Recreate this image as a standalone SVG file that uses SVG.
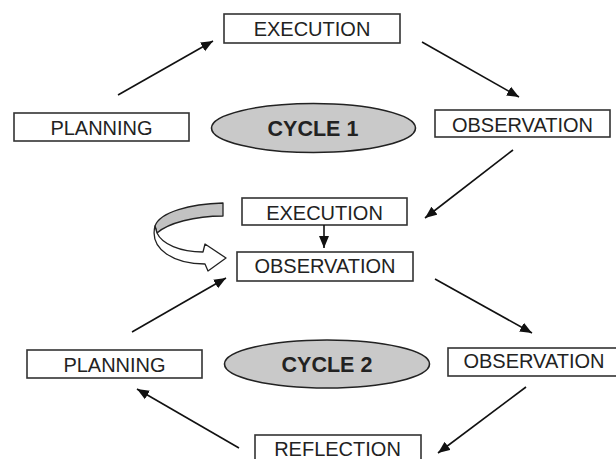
<svg xmlns="http://www.w3.org/2000/svg" width="616" height="459" viewBox="0 0 616 459">
<defs>
<marker id="ah" markerUnits="userSpaceOnUse" markerWidth="13" markerHeight="11" refX="12" refY="5" orient="auto" viewBox="0 0 13 10">
<path d="M0,0 L12,5 L0,10 z" fill="#111"/>
</marker>
<style>
.box{fill:#fff;stroke:#333;stroke-width:1.6}
.ell{fill:#c9c9c9;stroke:#222;stroke-width:1.6}
.t{font-family:"Liberation Sans",Arial,sans-serif;font-size:20px;fill:#222;text-anchor:middle}
.c{font-family:"Liberation Sans",Arial,sans-serif;font-size:21.5px;font-weight:bold;fill:#222;text-anchor:middle}
.ar{stroke:#111;stroke-width:1.6;fill:none;marker-end:url(#ah)}
</style>
</defs>
<rect width="616" height="459" fill="#fff"/>
<g id="exec1"><rect class="box" x="224" y="14" width="176" height="29"/><text class="t" x="312" y="36">EXECUTION</text></g>
<g id="plan1"><rect class="box" x="14" y="113" width="175" height="28"/><text class="t" x="101.5" y="134.5">PLANNING</text></g>
<g id="cycle1"><ellipse class="ell" cx="313.5" cy="128" rx="102" ry="24.5"/><text class="c" x="313" y="136">CYCLE 1</text></g>
<g id="obs1"><rect class="box" x="435" y="110" width="175" height="27"/><text class="t" x="522.5" y="132">OBSERVATION</text></g>
<g id="exec2"><rect class="box" x="242" y="198" width="165" height="27"/><text class="t" x="324.5" y="220">EXECUTION</text></g>
<g id="obs2"><rect class="box" x="237" y="252" width="176" height="29"/><text class="t" x="325" y="273">OBSERVATION</text></g>
<g id="loop">
<path d="M223,203 C190,204 160,212 155,226 L157,233 C168,223 195,216 223,216 Z" fill="#c2c2c2" stroke="#222" stroke-width="1.3" stroke-linejoin="round"/>
<path d="M155,226 C149,250 175,264 205,264 L208,271 L226,258 L205,244 L203,252 C180,252 162,244 157,233 Z" fill="#fff" stroke="#222" stroke-width="1.3" stroke-linejoin="round"/>
</g>
<g id="plan2"><rect class="box" x="27" y="350" width="175" height="28"/><text class="t" x="114.5" y="372">PLANNING</text></g>
<g id="cycle2"><ellipse class="ell" cx="327" cy="364" rx="102.5" ry="24"/><text class="c" x="327" y="372">CYCLE 2</text></g>
<g id="obs3"><rect class="box" x="448" y="348" width="172" height="28"/><text class="t" x="534" y="368">OBSERVATION</text></g>
<g id="refl"><rect class="box" x="255" y="435" width="166" height="30"/><text class="t" x="337.5" y="456">REFLECTION</text></g>
<g id="connectors">
<line class="ar" x1="118" y1="95" x2="213" y2="41"/>
<line class="ar" x1="422" y1="42" x2="519" y2="97"/>
<line class="ar" x1="513" y1="150" x2="425" y2="218"/>
<line class="ar" x1="324" y1="225" x2="324" y2="248"/>
<line class="ar" x1="132" y1="332" x2="226" y2="278"/>
<line class="ar" x1="435" y1="279" x2="532" y2="333"/>
<line class="ar" x1="526" y1="387" x2="438" y2="453"/>
<line class="ar" x1="239" y1="448" x2="137" y2="389"/>
</g>
</svg>
